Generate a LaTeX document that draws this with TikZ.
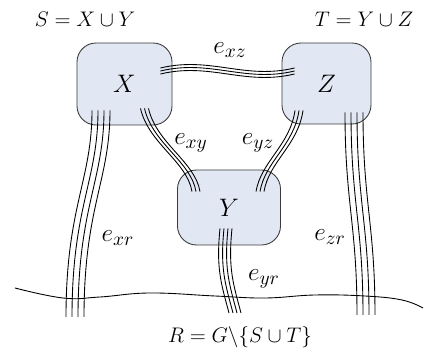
\documentclass[tikz,border=0pt]{standalone}
\usepackage{amsmath,amssymb}
\usepackage{tikz}
\usetikzlibrary{calc}
\definecolor{partfill}{HTML}{E2E8F3}
\definecolor{partline}{HTML}{3A3A3A}

\begin{document}
\begin{tikzpicture}[x=0.2mm, y=-0.2mm, every node/.style={font=\fontsize{13}{15}\selectfont}, part/.style={draw=partline,fill=partfill,rounded corners=3.8mm,inner sep=0pt,line width=0.5pt,font=\fontsize{15}{17}\selectfont}, elabel/.style={font=\fontsize{15}{17}\selectfont}, wire/.style={line width=0.5pt}]
\useasboundingbox (0,0) rectangle (429,356);
\node[part,minimum width=19mm,minimum height=16.4mm] (X) at (124.5,84) {$X$};
\node[part,minimum width=17.8mm,minimum height=16.2mm] (Z) at (326.5,83.5) {$Z$};
\node[part,minimum width=20.6mm,minimum height=15mm] (Y) at (229,207.5) {$Y$};
\coordinate (rx) at (75,317);
\coordinate (ry) at (235,313);
\coordinate (rz) at (366,315);
% bundles of edges
\foreach \d in {-3,0,3} \draw[wire] ($(X.east)+(-12,-13+\d)$) .. controls +(50,-12) and +(-50,12) .. ($(Z.west)+(13,-12.5+\d)$);
\foreach \d in {-4,0,4} \draw[wire] ($(X.south)+(20+\d,-17)$) .. controls +(8,35) and +(-5,-30) .. ($(Y.north)+(-33+\d,22)$);
\foreach \d in {-4,0,4} \draw[wire] ($(Z.south)+(-27.5+\d,-14)$) .. controls +(-5,35) and +(5,-30) .. ($(Y.north)+(31+\d,22)$);
\foreach \d in {-9,-3,3,9} \draw[wire] ($(X.south)+(-23.5+\d,-15)$) .. controls +(0,70) and +(0,-110) .. ($(rx)+(\d,0)$);
\foreach \d in {-9,-3,3,9} \draw[wire] ($(Z.south)+(27.5+\d,-12)$) .. controls +(0,90) and +(0,-90) .. ($(rz)+(\d,0)$);
\foreach \d in {-6,-2,2,6} \draw[wire] ($(Y.south)+(-3+\d,-17)$) .. controls +(-4,40) and +(-8,-30) .. ($(ry)+(\d,0)$);
% rest of the graph
\draw[wire] plot[smooth,tension=0.7] coordinates {(15,288) (63,298) (100,297) (150,293) (215,296) (265,298) (315,295) (365,296) (402,300) (423,308)};
% labels
\node (s) at (85,19) {$S=X\cup Y$};
\node (t) at (364,19) {$T=Y\cup Z$};
\node[elabel] (lxz) at (230,50) {$e_{xz}$};
\node[elabel] (lxy) at (191,143) {$e_{xy}$};
\node[elabel] (lyz) at (258,143) {$e_{yz}$};
\node[elabel] (lxr) at (118,238) {$e_{xr}$};
\node[elabel] (lzr) at (330,237) {$e_{zr}$};
\node[elabel] (lyr) at (264,279) {$e_{yr}$};
\node (r) at (240,337) {$R=G\backslash\{S\cup T\}$};
\end{tikzpicture}
\end{document}
